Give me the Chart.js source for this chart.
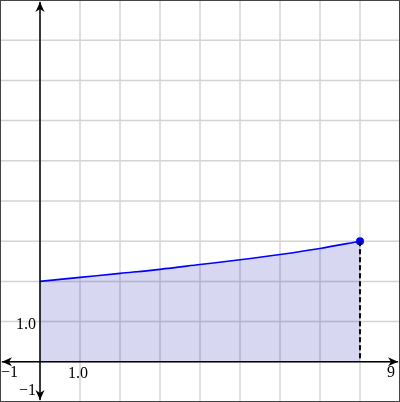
<!DOCTYPE html>
<html>
<head>
<meta charset="utf-8">
<script src="https://cdn.jsdelivr.net/npm/chart.js@4"></script>
<style>
html,body{margin:0;padding:0;background:#fff;}
canvas{display:block;}
</style>
</head>
<body>
<canvas id="c" width="400" height="402"></canvas>
<script>
// Data
const xValues = [0, 1, 2, 3, 4, 5, 6, 7, 8];
const yValues = [2.0, 2.1, 2.2, 2.3, 2.42, 2.54, 2.67, 2.82, 3.0];
const xRange = [-1, 9];
const yRange = [-1, 9];
const gridValues = [-1, 0, 1, 2, 3, 4, 5, 6, 7, 8, 9];
const xTickLabels = [[-1, '\u22121'], [1, '1.0'], [9, '9']];
const yTickLabels = [[1, '1.0'], [-1, '\u22121']];
const endPoint = [8, 3];

const points = xValues.map((x, i) => ({x: x, y: yValues[i]}));

const FONT = '16px "Liberation Serif", "Times New Roman", serif';

function arrow(ctx, x, y, dir) {
  const L = 10, W = 4.5, B = 3;
  ctx.save();
  ctx.translate(x, y);
  const ang = {right: 0, down: Math.PI / 2, left: Math.PI, up: -Math.PI / 2}[dir];
  ctx.rotate(ang);
  ctx.beginPath();
  ctx.moveTo(0, 0);
  ctx.lineTo(-L, -W);
  ctx.lineTo(-L + B, 0);
  ctx.lineTo(-L, W);
  ctx.closePath();
  ctx.fillStyle = '#000';
  ctx.fill();
  ctx.restore();
}

const gridPlugin = {
  id: 'gridPlugin',
  beforeDatasetsDraw(chart) {
    const ctx = chart.ctx;
    const xs = chart.scales.x, ys = chart.scales.y;
    const a = chart.chartArea;
    ctx.save();
    ctx.strokeStyle = '#d4d4d4';
    ctx.lineWidth = 1.5;
    gridValues.forEach(v => {
      const px = xs.getPixelForValue(v);
      ctx.beginPath(); ctx.moveTo(px, a.top); ctx.lineTo(px, a.bottom); ctx.stroke();
      const py = ys.getPixelForValue(v);
      ctx.beginPath(); ctx.moveTo(a.left, py); ctx.lineTo(a.right, py); ctx.stroke();
    });
    ctx.restore();
  },
  afterDatasetsDraw(chart) {
    const ctx = chart.ctx;
    const xs = chart.scales.x, ys = chart.scales.y;
    const a = chart.chartArea;
    const x0 = xs.getPixelForValue(0), y0 = ys.getPixelForValue(0);
    ctx.save();
    ctx.strokeStyle = '#000';
    ctx.lineWidth = 2;
    ctx.setLineDash([5, 3]);
    const ex = xs.getPixelForValue(endPoint[0]);
    ctx.beginPath();
    ctx.moveTo(ex, ys.getPixelForValue(endPoint[1]));
    ctx.lineTo(ex, y0);
    ctx.stroke();
    ctx.setLineDash([]);
    ctx.lineWidth = 1.5;
    ctx.beginPath(); ctx.moveTo(a.left + 2, y0); ctx.lineTo(a.right - 2, y0); ctx.stroke();
    ctx.beginPath(); ctx.moveTo(x0, a.top + 2); ctx.lineTo(x0, a.bottom - 2); ctx.stroke();
    arrow(ctx, a.left + 2, y0, 'left');
    arrow(ctx, a.right - 2, y0, 'right');
    arrow(ctx, x0, a.top + 2, 'up');
    arrow(ctx, x0, a.bottom - 2, 'down');
    ctx.fillStyle = '#000';
    ctx.font = FONT;
    ctx.textBaseline = 'alphabetic';
    xTickLabels.forEach(([v, t]) => {
      let px = xs.getPixelForValue(v);
      let by = y0 + 16;
      if (v === xRange[0]) { ctx.textAlign = 'left'; px += 1; by = y0 + 15; }
      else if (v === xRange[1]) { ctx.textAlign = 'right'; px -= 5; by = y0 + 15; }
      else { ctx.textAlign = 'center'; px -= 2; }
      ctx.fillText(t, px, by);
    });
    ctx.textAlign = 'right';
    yTickLabels.forEach(([v, t]) => {
      let py = ys.getPixelForValue(v);
      if (v === yRange[0]) py -= 7; else py += 7;
      ctx.fillText(t, x0 - 4, py);
    });
    ctx.strokeStyle = '#444';
    ctx.lineWidth = 2;
    ctx.strokeRect(0, 0, chart.width, chart.height);
    ctx.restore();
  }
};

new Chart(document.getElementById('c'), {
  type: 'line',
  data: {
    datasets: [{
      data: points,
      borderColor: '#0000ff',
      borderWidth: 1.6,
      backgroundColor: 'rgba(0,0,170,0.155)',
      fill: 'origin',
      tension: 0.3,
      cubicInterpolationMode: 'monotone',
      pointRadius: c => c.dataIndex === points.length - 1 ? 4 : 0,
      pointBackgroundColor: '#0000ff',
      pointBorderColor: '#0000ff',
      pointBorderWidth: 0,
      clip: false
    }]
  },
  options: {
    responsive: false,
    animation: false,
    layout: {padding: 0, autoPadding: false},
    plugins: {legend: {display: false}, tooltip: {enabled: false}},
    events: [],
    scales: {
      x: {type: 'linear', min: xRange[0], max: xRange[1], display: false},
      y: {type: 'linear', min: yRange[0], max: yRange[1], display: false}
    }
  },
  plugins: [gridPlugin]
});
</script>
</body>
</html>
